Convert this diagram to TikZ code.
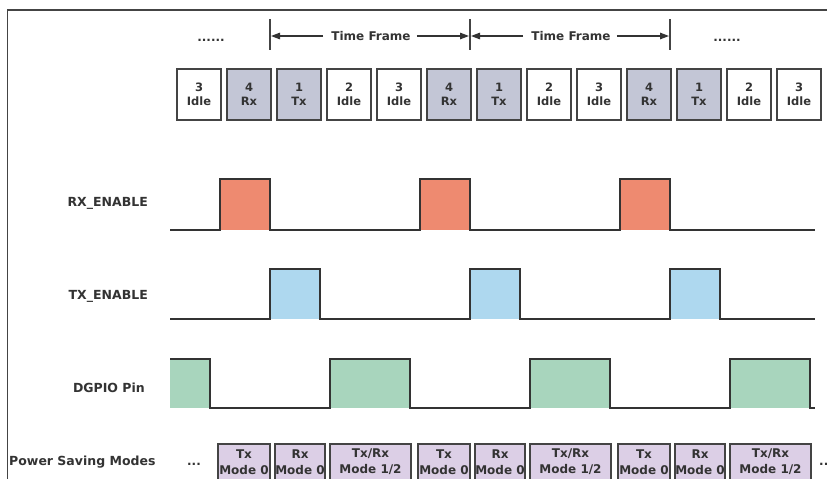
\documentclass[tikz,border=0pt]{standalone}
\usepackage{fontspec}
\setmainfont{DejaVu Sans}
\usetikzlibrary{arrows.meta}
\definecolor{ink}{HTML}{333333}
\definecolor{rxc}{HTML}{EE8A70}
\definecolor{txc}{HTML}{AED8EF}
\definecolor{gpc}{HTML}{A8D5BD}
\definecolor{slotc}{HTML}{C3C6D6}
\definecolor{modec}{HTML}{DCCFE6}
\definecolor{framec}{HTML}{444444}
\tikzset{
  slotbox/.style={draw=framec, line width=1.7pt, minimum width=44.5pt, minimum height=51pt,
    inner sep=0pt, align=center, text=ink, font=\fontsize{11.5}{14.5}\selectfont\bfseries},
  idleslot/.style={slotbox, fill=white},
  busyslot/.style={slotbox, fill=slotc},
  modebox/.style={draw=framec, line width=1.9pt, fill=modec, minimum height=36pt,
    inner sep=0pt, align=center, text=ink, font=\fontsize{12}{16}\selectfont\bfseries},
  siglabel/.style={anchor=east, text=ink, font=\fontsize{12.5}{14}\selectfont\bfseries, inner sep=0pt},
  wave/.style={draw=ink, line width=1.6pt, line join=miter},
  tick/.style={draw=framec, line width=1.2pt},
  framearrow/.style={draw=ink, line width=1.3pt, -{Triangle[length=9pt,width=6.5pt]}},
  tftext/.style={text=ink, font=\fontsize{12}{14}\selectfont\bfseries, inner sep=8pt},
  dots/.style={text=ink, font=\fontsize{12}{14}\selectfont\bfseries, inner sep=0pt, anchor=base}
}
\begin{document}
\begin{tikzpicture}[x=1pt,y=-1pt]
\useasboundingbox (0,0) rectangle (827,479);
\clip (0,0) rectangle (827,479);
\fill[white] (0,0) rectangle (827,479);
% frame
\draw[framec, line width=1.5pt] (7.5,495) -- (7.5,10) -- (840,10);

% dots
\node[dots] (dl) at (211,41) {......};
\node[dots] (dr) at (727,41) {......};

% ticks and time frames
\foreach \i/\x in {1/270,2/470,3/670}{
  \coordinate (tt\i) at (\x,19);
  \coordinate (tb\i) at (\x,50);
  \coordinate (tm\i) at (\x,36);
  \draw[tick] (tt\i) -- (tb\i);
}
\node[tftext] (tf1) at (371,36) {Time Frame};
\node[tftext] (tf2) at (571,36) {Time Frame};
\draw[framearrow] (tf1.west) -- ([xshift=1pt]tm1);
\draw[framearrow] ([xshift=-2pt]tf1.east) -- ([xshift=-1pt]tm2);
\draw[framearrow] (tf2.west) -- ([xshift=1pt]tm2);
\draw[framearrow] ([xshift=-2pt]tf2.east) -- ([xshift=-1pt]tm3);

% slots
\foreach \i/\st/\num/\lab in {0/idleslot/3/Idle,1/busyslot/4/Rx,2/busyslot/1/Tx,3/idleslot/2/Idle,
  4/idleslot/3/Idle,5/busyslot/4/Rx,6/busyslot/1/Tx,7/idleslot/2/Idle,8/idleslot/3/Idle,
  9/busyslot/4/Rx,10/busyslot/1/Tx,11/idleslot/2/Idle,12/idleslot/3/Idle}{
  \node[\st] (s\i) at (199+50*\i,94.5) {\num\\\lab};
}

% signal labels
\node[siglabel] (lrx) at (148,203) {RX\_ENABLE};
\node[siglabel] (ltx) at (148,296) {TX\_ENABLE};
\node[siglabel] (lgp) at (145,388) {DGPIO Pin};
\node[siglabel, anchor=west] (lps) at (9,462) {Power Saving Modes};

% RX_ENABLE
\foreach \a in {220,420,620}{ \fill[rxc] (\a,179) rectangle (\a+50,230); }
\draw[wave] (170,230) -- (220,230) -- (220,179) -- (270,179) -- (270,230)
  -- (420,230) -- (420,179) -- (470,179) -- (470,230)
  -- (620,230) -- (620,179) -- (670,179) -- (670,230) -- (815,230);
% TX_ENABLE
\foreach \a in {270,470,670}{ \fill[txc] (\a,269) rectangle (\a+50,319); }
\draw[wave] (170,319) -- (270,319) -- (270,269) -- (320,269) -- (320,319)
  -- (470,319) -- (470,269) -- (520,269) -- (520,319)
  -- (670,319) -- (670,269) -- (720,269) -- (720,319) -- (815,319);
% DGPIO
\fill[gpc] (170,359) rectangle (210,408);
\foreach \a in {330,530,730}{ \fill[gpc] (\a,359) rectangle (\a+80,408); }
\draw[wave] (170,359) -- (210,359) -- (210,408)
  -- (330,408) -- (330,359) -- (410,359) -- (410,408)
  -- (530,408) -- (530,359) -- (610,359) -- (610,408)
  -- (730,408) -- (730,359) -- (810,359) -- (810,408) -- (815,408);

% power saving modes
\node[dots] (pdl) at (194,465) {...};
\foreach \g in {0,1,2}{
  \node[modebox, minimum width=52pt] (ma\g) at (244+200*\g,462) {Tx\\Mode 0};
  \node[modebox, minimum width=50pt] (mb\g) at (300+200*\g,462) {Rx\\Mode 0};
  \node[modebox, minimum width=81pt] (mc\g) at (370.5+200*\g,462) {Tx/Rx\\Mode 1/2};
}
\node[dots, anchor=base west] (pdr) at (819,465) {...};
\end{tikzpicture}
\end{document}
